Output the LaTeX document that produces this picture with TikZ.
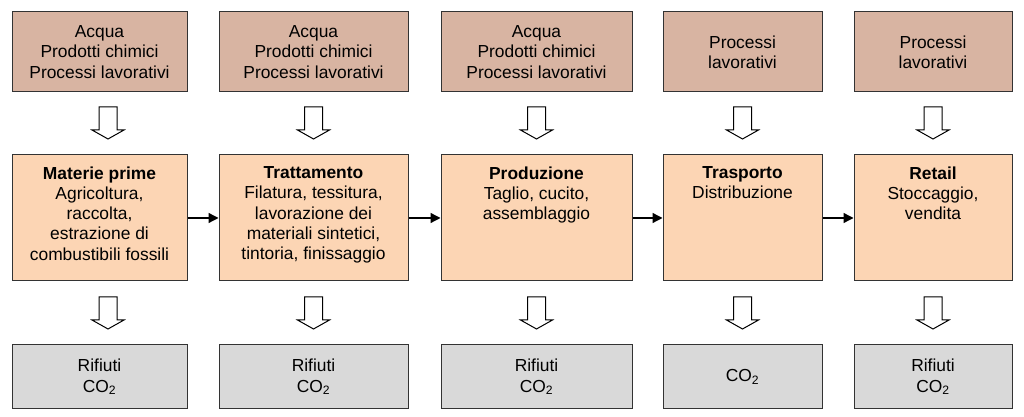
\documentclass[tikz,border=0pt]{standalone}
\usepackage{fontspec}
\setmainfont{Liberation Sans}
\usetikzlibrary{arrows.meta, positioning}
\definecolor{inputfill}{HTML}{D8B4A2}
\definecolor{phasefill}{HTML}{FCD5B4}
\definecolor{outputfill}{HTML}{D9D9D9}
\tikzset{
  box/.style={draw=black!80, line width=1pt, inner sep=0pt, align=center, font=\fontsize{17.4}{20.2}\selectfont},
  topbox/.style={box, fill=inputfill, minimum height=80pt},
  midbox/.style={box, fill=phasefill, minimum height=126pt},
  botbox/.style={box, fill=outputfill, minimum height=64pt},
  phasetext/.style={anchor=north, align=center, inner sep=0pt, yshift=-12pt, font=\fontsize{17.4}{20.2}\selectfont},
  flow/.style={line width=1.3pt, -{Triangle[length=10pt,width=10pt]}},
  pics/downarrow/.style={code={
    \draw[line width=1pt, fill=white] (-9,0) -- (9,0) -- (9,-23) -- (16,-23) -- (0,-32) -- (-16,-23) -- (-9,-23) -- cycle;}}
}

\begin{document}
\begin{tikzpicture}[x=1pt, y=1pt]
	\useasboundingbox (0,0) rectangle (1024,417);
	% inputs
	\node[topbox, minimum width=175pt] (in1) at (99.5,365) {Acqua\\Prodotti chimici\\Processi lavorativi};
	\node[topbox, minimum width=189pt] (in2) at (313.5,365) {Acqua\\Prodotti chimici\\Processi lavorativi};
	\node[topbox, minimum width=191pt] (in3) at (536.5,365) {Acqua\\Prodotti chimici\\Processi lavorativi};
	\node[topbox, minimum width=159pt] (in4) at (742.5,365) {Processi\\lavorativi};
	\node[topbox, minimum width=158pt] (in5) at (933,365) {Processi\\lavorativi};
	% phases
	\node[midbox, minimum width=175pt] (ph1) at (99.5,199) {};
	\node[midbox, minimum width=189pt] (ph2) at (313.5,199) {};
	\node[midbox, minimum width=191pt] (ph3) at (536.5,199) {};
	\node[midbox, minimum width=159pt] (ph4) at (742.5,199) {};
	\node[midbox, minimum width=158pt] (ph5) at (933,199) {};
	\node[phasetext] (ph1t) at (ph1.north) {\textbf{Materie prime}\\Agricoltura,\\raccolta,\\estrazione di\\combustibili fossili};
	\node[phasetext] (ph2t) at (ph2.north) {\textbf{Trattamento}\\Filatura, tessitura,\\lavorazione dei\\materiali sintetici,\\tintoria, finissaggio};
	\node[phasetext] (ph3t) at (ph3.north) {\textbf{Produzione}\\Taglio, cucito,\\assemblaggio};
	\node[phasetext] (ph4t) at (ph4.north) {\textbf{Trasporto}\\Distribuzione};
	\node[phasetext] (ph5t) at (ph5.north) {\textbf{Retail}\\Stoccaggio,\\vendita};
	% outputs
	\node[botbox, minimum width=175pt] (out1) at (99.5,40) {Rifiuti\\CO\textsubscript{2}};
	\node[botbox, minimum width=189pt] (out2) at (313.5,40) {Rifiuti\\CO\textsubscript{2}};
	\node[botbox, minimum width=191pt] (out3) at (536.5,40) {Rifiuti\\CO\textsubscript{2}};
	\node[botbox, minimum width=159pt] (out4) at (742.5,40) {CO\textsubscript{2}};
	\node[botbox, minimum width=158pt] (out5) at (933,40) {Rifiuti\\CO\textsubscript{2}};
	% flow between phases
	\draw[flow] (ph1) -- (ph2);
	\draw[flow] (ph2) -- (ph3);
	\draw[flow] (ph3) -- (ph4);
	\draw[flow] (ph4) -- (ph5);
	% block arrows
	\pic at (108,310) {downarrow};
	\pic at (313.5,310) {downarrow};
	\pic at (536.5,310) {downarrow};
	\pic at (742.5,310) {downarrow};
	\pic at (933,310) {downarrow};
	\pic at (108,120) {downarrow};
	\pic at (313.5,120) {downarrow};
	\pic at (536.5,120) {downarrow};
	\pic at (742.5,120) {downarrow};
	\pic at (933,120) {downarrow};
\end{tikzpicture}
\end{document}
